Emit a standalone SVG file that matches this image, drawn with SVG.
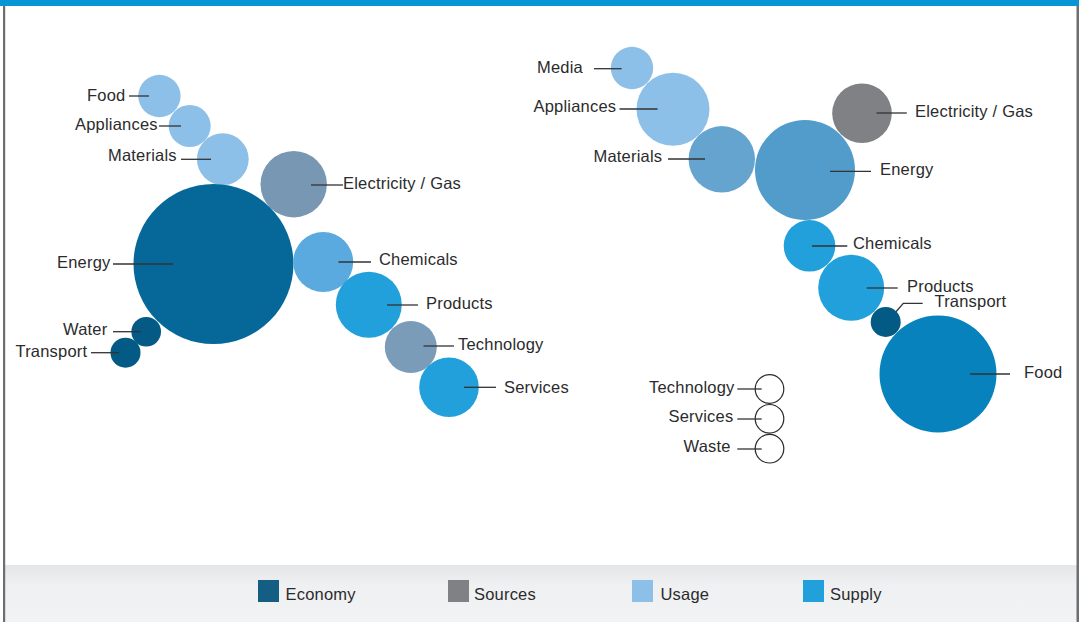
<svg xmlns="http://www.w3.org/2000/svg" width="1079" height="622" viewBox="0 0 1079 622">
<style>
text{font-family:"Liberation Sans",Arial,sans-serif;font-size:16.5px;letter-spacing:0.2px;fill:#2b2b2d}
.ld{stroke:#333335;stroke-width:1.3;fill:none}
.usage{fill:#8dc0e8}
.supply{fill:#22a0db}
.econ{fill:#035a85}
.out{fill:#fff;stroke:#2b2b2d;stroke-width:1.2}
</style>
<defs>
<linearGradient id="gb" x1="0" y1="0" x2="0" y2="1">
<stop offset="0" stop-color="#e5e6e8"/>
<stop offset="0.35" stop-color="#eff0f1"/>
<stop offset="1" stop-color="#f2f3f4"/>
</linearGradient>
</defs>
<rect x="0" y="0" width="1079" height="622" fill="#fff"/>
<rect x="3" y="565" width="1074" height="57" fill="url(#gb)"/>
<rect x="0" y="0" width="1079" height="6" fill="#0895d6"/>
<rect x="3" y="6" width="2.2" height="616" fill="#6d6e70"/>
<rect x="1076.5" y="6" width="2.5" height="616" fill="#6d6e70"/>

<g id="left-food"><circle class="usage" cx="159.4" cy="96" r="21.2"/><text x="87" y="101">Food</text></g>
<g id="left-appliances"><circle class="usage" cx="189.7" cy="126" r="21"/><text x="75" y="130">Appliances</text></g>
<g id="left-materials"><circle class="usage" cx="222.8" cy="159.2" r="25.9"/><text x="108" y="161">Materials</text></g>
<g id="left-electricity"><circle fill="#7897b3" cx="293.7" cy="184.2" r="33.2"/><text x="343" y="189">Electricity / Gas</text></g>
<g id="left-energy"><circle fill="#066899" cx="213.5" cy="264" r="80"/><text x="57" y="267.5">Energy</text></g>
<g id="left-chemicals"><circle fill="#5aaadf" cx="323.2" cy="262" r="30"/><text x="379" y="265">Chemicals</text></g>
<g id="left-products"><circle class="supply" cx="368.8" cy="304.7" r="33"/><text x="426" y="309">Products</text></g>
<g id="left-technology"><circle fill="#7a9cb8" cx="410.8" cy="347" r="26"/><text x="458" y="350">Technology</text></g>
<g id="left-services"><circle class="supply" cx="449" cy="387.2" r="29.8"/><text x="504" y="392.5">Services</text></g>
<g id="left-water"><circle class="econ" cx="146.2" cy="331.7" r="14.8"/><text x="63" y="335">Water</text></g>
<g id="left-transport"><circle class="econ" cx="125.5" cy="352.7" r="15"/><text x="15.5" y="356.5">Transport</text></g>

<g id="right-media"><circle class="usage" cx="632" cy="68" r="21.2"/><text x="537" y="72.5">Media</text></g>
<g id="right-appliances"><circle class="usage" cx="673" cy="109.2" r="36.5"/><text x="533.5" y="111.5">Appliances</text></g>
<g id="right-materials"><circle fill="#66a4d0" cx="721.8" cy="159.3" r="33.2"/><text x="593.5" y="161.5">Materials</text></g>
<g id="right-energy"><circle fill="#529ccb" cx="805" cy="170" r="50"/><text x="880" y="175">Energy</text></g>
<g id="right-electricity"><circle fill="#808184" cx="862" cy="113.3" r="29.8"/><text x="915" y="116.5">Electricity / Gas</text></g>
<g id="right-chemicals"><circle class="supply" cx="809.5" cy="245.8" r="25.8"/><text x="853" y="249.3">Chemicals</text></g>
<g id="right-products"><circle class="supply" cx="851.2" cy="287.8" r="33"/><text x="907" y="291.7">Products</text></g>
<g id="right-transport"><circle class="econ" cx="885.7" cy="322" r="15"/><text x="934.5" y="306.7">Transport</text></g>
<g id="right-food"><circle fill="#0882bd" cx="938" cy="374" r="58.5"/><text x="1024" y="377.5">Food</text></g>
<g id="right-technology"><circle class="out" cx="769.5" cy="389" r="14.3"/><text x="649" y="392.7">Technology</text></g>
<g id="right-services"><circle class="out" cx="769.5" cy="418.8" r="14.3"/><text x="668.5" y="421.7">Services</text></g>
<g id="right-waste"><circle class="out" cx="769.5" cy="448.7" r="14.3"/><text x="683.5" y="452.3">Waste</text></g>

<g id="connectors">
<line class="ld" x1="129" y1="96" x2="149" y2="96"/>
<line class="ld" x1="159" y1="126" x2="181" y2="126"/>
<line class="ld" x1="181" y1="159.3" x2="211" y2="159.3"/>
<line class="ld" x1="311" y1="185" x2="343" y2="185"/>
<line class="ld" x1="113" y1="264" x2="173" y2="264"/>
<line class="ld" x1="338.5" y1="262" x2="371" y2="262"/>
<line class="ld" x1="387" y1="305" x2="418" y2="305"/>
<line class="ld" x1="423.5" y1="346" x2="454" y2="346"/>
<line class="ld" x1="464" y1="387.3" x2="496" y2="387.3"/>
<line class="ld" x1="113" y1="331.7" x2="140.5" y2="331.7"/>
<line class="ld" x1="91" y1="352.7" x2="118.8" y2="352.7"/>
<line class="ld" x1="594" y1="68.7" x2="621.6" y2="68.7"/>
<line class="ld" x1="619.5" y1="109" x2="657.6" y2="109"/>
<line class="ld" x1="668" y1="159" x2="705" y2="159"/>
<line class="ld" x1="830" y1="171.3" x2="871" y2="171.3"/>
<line class="ld" x1="876.5" y1="113" x2="906.8" y2="113"/>
<line class="ld" x1="812" y1="246" x2="847.3" y2="246"/>
<line class="ld" x1="866.7" y1="288" x2="897.7" y2="288"/>
<polyline class="ld" points="896,311.7 903.3,303.3 922.7,303.3"/>
<line class="ld" x1="970" y1="374" x2="1010" y2="374"/>
<line class="ld" x1="737.3" y1="389" x2="761.7" y2="389"/>
<line class="ld" x1="737.3" y1="419" x2="761.7" y2="419"/>
<line class="ld" x1="737.3" y1="449" x2="761.7" y2="449"/>
</g>

<g id="legend">
<rect x="258" y="580" width="21" height="22" fill="#145e84"/><text x="285.5" y="599.5">Economy</text>
<rect x="448" y="580" width="21" height="22" fill="#808184"/><text x="474" y="599.5">Sources</text>
<rect x="632" y="580" width="21" height="22" fill="#8dc0e8"/><text x="660.5" y="599.5">Usage</text>
<rect x="803" y="580" width="21" height="22" fill="#22a0db"/><text x="830" y="599.5">Supply</text>
</g>
</svg>
